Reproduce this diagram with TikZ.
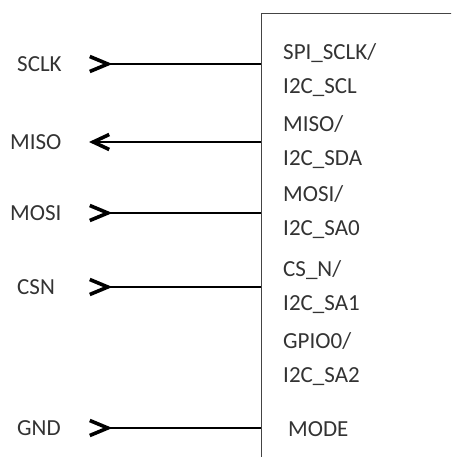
\documentclass[tikz,border=0pt]{standalone}
\usepackage{fontspec}
\setmainfont{Carlito}
\usetikzlibrary{arrows.meta,positioning}
\definecolor{pintext}{HTML}{333333}
\definecolor{boxline}{HTML}{444444}

\tikzset{
    pinlabel/.style={text=pintext, font=\fontsize{23}{34}\selectfont, inner sep=0pt},
    sig/.style={line width=2.8pt},
    sigin/.style={sig, {Straight Barb[reversed, line width=3.6pt, length=18pt, width=15pt]}-},
    sigout/.style={sig, -{Straight Barb[line width=3.6pt, length=16pt, width=15pt]}},
}

\begin{document}
\begin{tikzpicture}[x=1pt, y=-1pt]
    \useasboundingbox (0,0) rectangle (451,457);
    \clip (0,0) rectangle (451,457);

    % chip outline, runs off the page at right and bottom
    \node (chip) [draw=boxline, line width=1.4pt, anchor=north west, minimum width=300pt, minimum height=500pt, inner sep=0pt] at (261,13) {};

    % host side signal names
    \node (sclk) [pinlabel, anchor=west] at (17,64) {SCLK};
    \node (miso) [pinlabel, anchor=west] at (10,142) {MISO};
    \node (mosi) [pinlabel, anchor=west] at (10,213) {MOSI};
    \node (csn)  [pinlabel, anchor=west] at (17,287) {CSN};
    \node (gnd)  [pinlabel, anchor=west] at (17,428) {GND};

    % chip pin names
    \node (p1) [pinlabel, anchor=west, align=left] at (283,70) {SPI\_SCLK/\\I2C\_SCL};
    \node (p2) [pinlabel, anchor=west, align=left] at (283,142) {MISO/\\I2C\_SDA};
    \node (p3) [pinlabel, anchor=west, align=left] at (283,212) {MOSI/\\I2C\_SA0};
    \node (p4) [pinlabel, anchor=west, align=left] at (283,287) {CS\_N/\\I2C\_SA1};
    \node (p5) [pinlabel, anchor=west, align=left] at (283,359) {GPIO0/\\I2C\_SA2};
    \node (p6) [pinlabel, anchor=west] at (288,429) {MODE};

    % line ends
    \coordinate (sclkend) at (88,64);
    \coordinate (misoend) at (89,142);
    \coordinate (mosiend) at (88,213);
    \coordinate (csnend)  at (88,287);
    \coordinate (gndend)  at (88,428);

    \draw [sigin] (sclkend) -- (sclkend -| chip.west);
    \draw [sigout] (misoend -| chip.west) -- (misoend);
    \draw [sigin] (mosiend) -- (mosiend -| chip.west);
    \draw [sigin] (csnend) -- (csnend -| chip.west);
    \draw [sigin] (gndend) -- (gndend -| chip.west);
\end{tikzpicture}
\end{document}
